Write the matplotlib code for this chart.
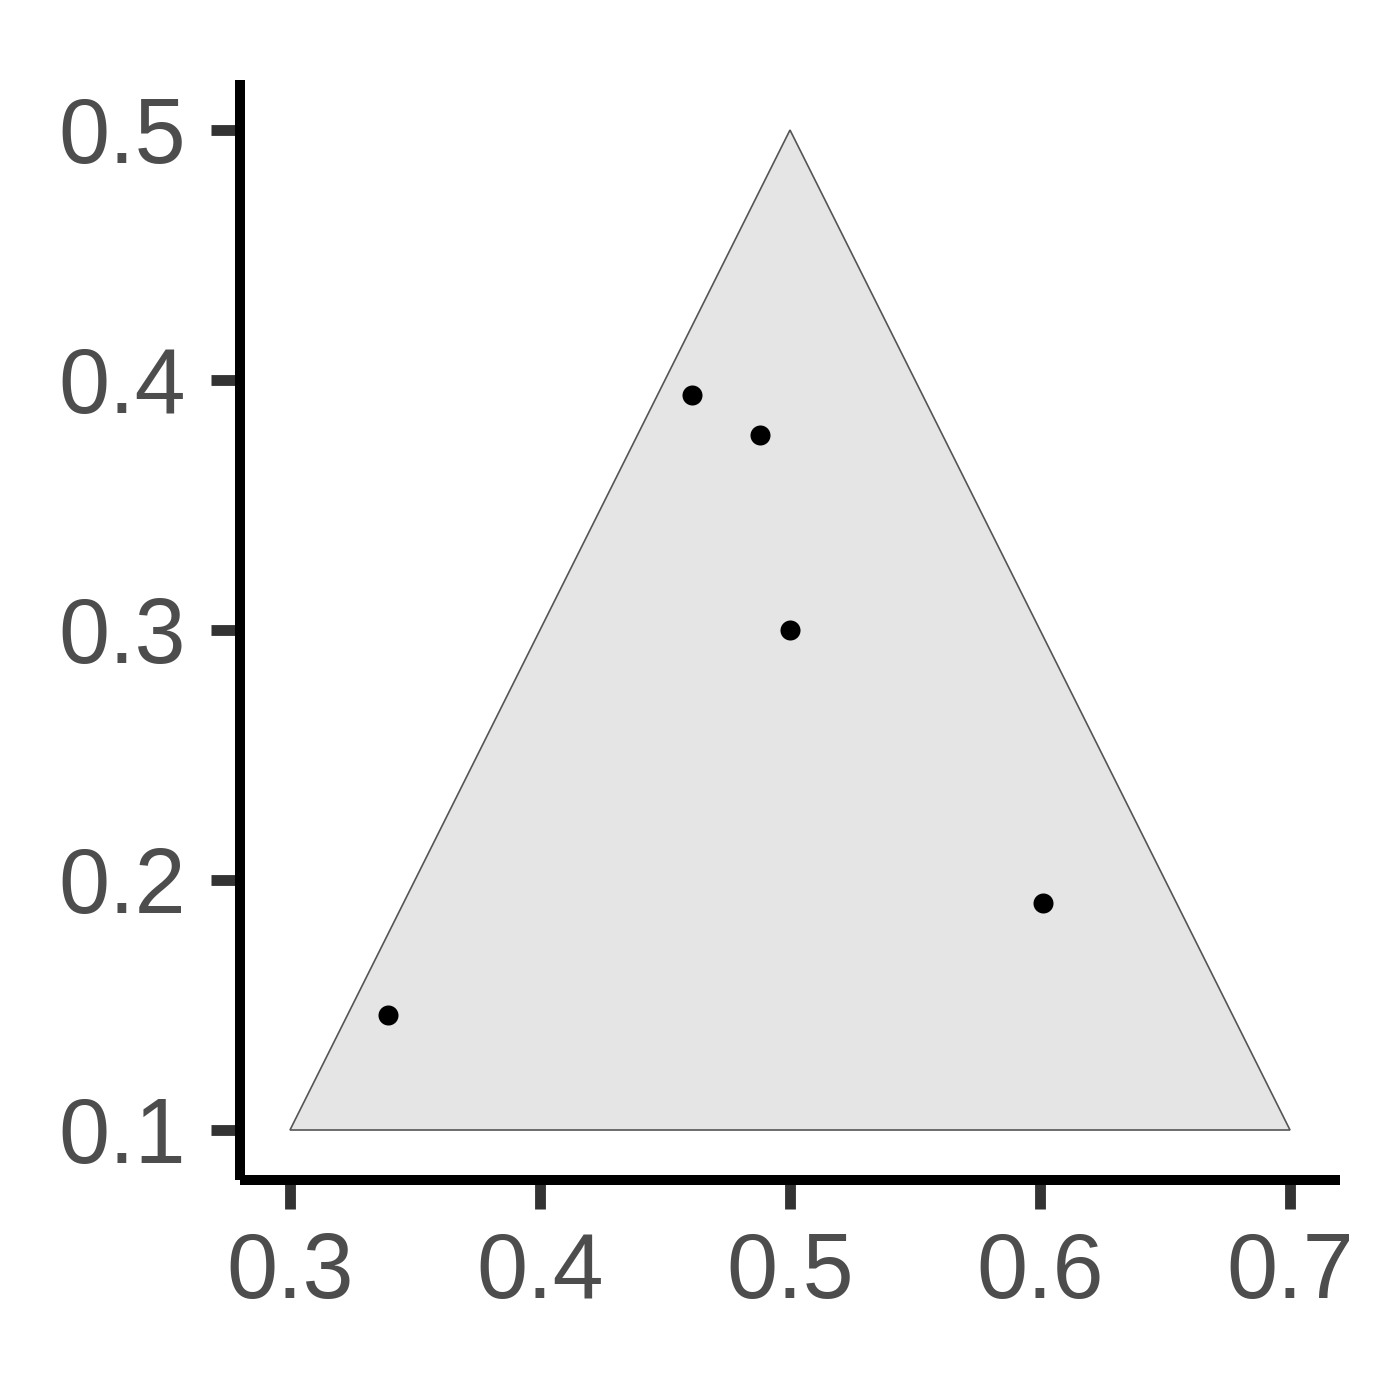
import matplotlib
matplotlib.use("Agg")
import matplotlib.pyplot as plt
from matplotlib.patches import Polygon

plt.rcParams['font.family'] = ['Liberation Sans', 'DejaVu Sans']

tri_x = [0.3, 0.5, 0.7]
tri_y = [0.1, 0.5, 0.1]
pt_x = [0.339, 0.461, 0.488, 0.500, 0.601]
pt_y = [0.146, 0.394, 0.378, 0.300, 0.191]
xticks = [0.3, 0.4, 0.5, 0.6, 0.7]
yticks = [0.1, 0.2, 0.3, 0.4, 0.5]

W = 1399
fig = plt.figure(figsize=(W/200, W/200), dpi=200)
ax = fig.add_axes([240/W, (W-1180)/W, 1100/W, 1100/W])
ax.add_patch(Polygon(list(zip(tri_x, tri_y)), closed=True, facecolor='#e5e5e5',
                     edgecolor='#555555', linewidth=0.6))
ax.scatter(pt_x, pt_y, s=52, color='black', zorder=3, linewidths=0)
ax.set_xlim(0.28, 0.72)
ax.set_ylim(0.08, 0.52)
ax.set_xticks(xticks)
ax.set_yticks(yticks)
ax.set_xticklabels([f"{v:.1f}" for v in xticks])
ax.set_yticklabels([f"{v:.1f}" for v in yticks])
for s in ['top', 'right']:
    ax.spines[s].set_visible(False)
for s in ['left', 'bottom']:
    ax.spines[s].set_linewidth(3.6)
    ax.spines[s].set_color('black')
    ax.spines[s].set_capstyle('butt')
ax.tick_params(length=10.4, width=3.9, color='#333333', labelcolor='#4d4d4d',
               labelsize=33)
ax.tick_params(axis='y', pad=9)
ax.tick_params(axis='x', pad=8)
fig.savefig("out.png", dpi=200, facecolor='white')
